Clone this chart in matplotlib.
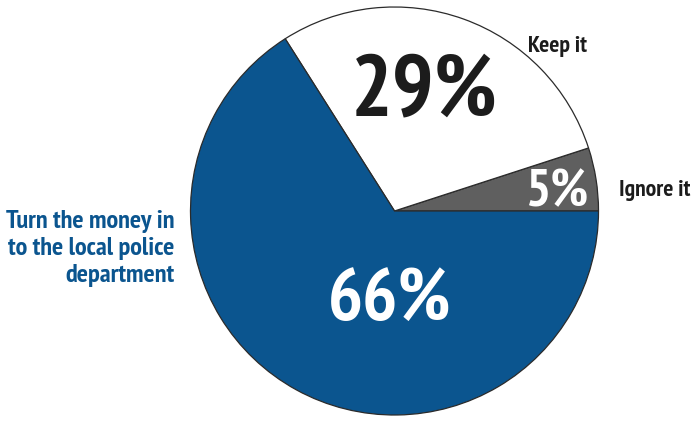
import matplotlib
matplotlib.use("Agg")
import matplotlib.pyplot as plt

plt.rcParams['font.family'] = ['PT Sans Narrow', 'Roboto Condensed', 'DejaVu Sans']
plt.rcParams['font.weight'] = 'bold'

# survey answers, drawn counter-clockwise from 3 o'clock
answers = ["Ignore it", "Keep it", "Turn the money in\nto the local police\ndepartment"]
shares = [5, 29, 66]
colors = ["#5f5f5f", "#ffffff", "#0b558f"]
pct_colors = ["white", "#1c1c1c", "white"]

W, H = 696, 422
fig = plt.figure(figsize=(W / 100, H / 100), dpi=100)
ax = fig.add_axes([0, 0, 1, 1])

cx, cy, r = 394.5, H - 211, 204
ax.pie(shares, colors=colors, startangle=0, counterclock=True,
       center=(cx, cy), radius=r,
       wedgeprops=dict(edgecolor="#2b2b2b", linewidth=0.9))
ax.set_xlim(0, W)
ax.set_ylim(0, H)
ax.set_aspect("equal")
ax.axis("off")

# percentage labels inside the slices (x centre, baseline)
pct_pos = [(557, H - 206), (424, H - 115), (390, H - 320)]
pct_size = [38, 63, 53]
for s, (x, y), c, fs in zip(shares, pct_pos, pct_colors, pct_size):
    ax.text(x, y, f"{s}%", ha="center", va="baseline", color=c, fontsize=fs)

# category names around the pie
ax.text(557, H - 52, answers[1], ha="center", va="baseline",
        fontsize=17, color="#1c1c1c")
ax.text(655, H - 196, answers[0], ha="center", va="baseline",
        fontsize=17, color="#1c1c1c")
for i, line in enumerate(answers[2].split("\n")):
    ax.text(174, H - 228 - 27 * i, line, ha="right", va="baseline",
            fontsize=19, color="#0b558f")

fig.savefig("out.png", dpi=100)
